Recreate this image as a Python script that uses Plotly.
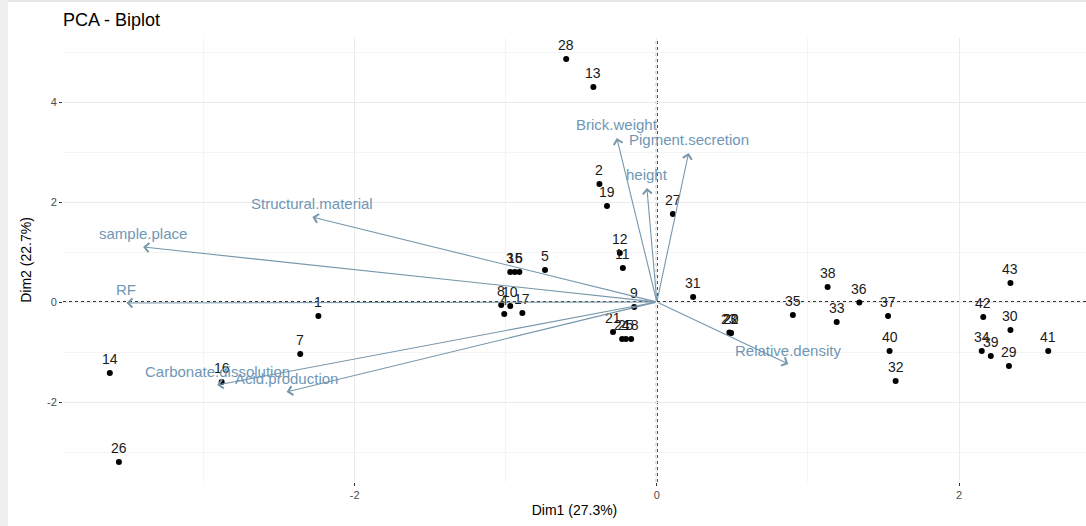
import plotly.graph_objects as go

# ---- data -------------------------------------------------------------
obs_labels = [str(i) for i in range(1, 44)]
obs_x = [-2.24, -0.38, -0.97, -1.01, -0.74, -0.91, -2.36, -1.03, -0.15, -0.97,
         -0.225, -0.245, -0.42, -3.62, -0.94, -2.88, -0.89, -0.17, -0.33, 0.49,
         -0.29, 0.49, 0.48, -0.23, -0.205, -3.56, 0.106, -0.60, 2.33, 2.34,
         0.24, 1.58, 1.19, 2.15, 0.90, 1.34, 1.53, 1.13, 2.21, 1.54,
         2.59, 2.16, 2.34]
obs_y = [-0.28, 2.36, 0.60, -0.24, 0.64, 0.60, -1.04, -0.06, -0.10, -0.08,
         0.68, 0.98, 4.30, -1.42, 0.60, -1.60, -0.22, -0.74, 1.92, -0.62,
         -0.60, -0.62, -0.61, -0.74, -0.74, -3.20, 1.76, 4.86, -1.28, -0.56,
         0.10, -1.58, -0.40, -0.98, -0.26, -0.01, -0.28, 0.30, -1.08, -0.98,
         -0.98, -0.30, 0.38]

var_names = ["Brick.weight", "Pigment.secretion", "height", "Structural.material",
             "sample.place", "RF", "Carbonate.dissolution", "Acid.production",
             "Relative.density"]
var_x = [-0.265, 0.21, -0.066, -2.28, -3.40, -3.51, -2.91, -2.45, 0.87]
var_y = [3.28, 2.98, 2.28, 1.70, 1.10, -0.02, -1.66, -1.80, -1.24]

x_ticks = [-2, 0, 2]
y_ticks = [-2, 0, 2, 4]
x_title = "Dim1 (27.3%)"
y_title = "Dim2 (22.7%)"
title = "PCA - Biplot"

# ---- styling ----------------------------------------------------------
FONT = "Liberation Sans, Arial, sans-serif"
VAR_COL = "#6F97B5"
ARROW_COL = "#7797AB"

fig = go.Figure()

fig.add_trace(go.Scatter(
    x=obs_x, y=obs_y, mode="markers",
    marker=dict(color="black", size=6),
    hoverinfo="text", text=obs_labels, showlegend=False,
))

annotations = []
for lab, x, y in zip(obs_labels, obs_x, obs_y):
    annotations.append(dict(
        x=x, y=y, xref="x", yref="y", text=lab, showarrow=False,
        yshift=14, xanchor="center", yanchor="middle",
        font=dict(family=FONT, size=14, color="#1a1a1a"),
    ))

for name, x, y in zip(var_names, var_x, var_y):
    annotations.append(dict(
        x=x, y=y, xref="x", yref="y", ax=0, ay=0, axref="x", ayref="y",
        text="", showarrow=True, arrowhead=4, arrowsize=1.6, arrowwidth=1.1,
        arrowcolor=ARROW_COL, standoff=0, startstandoff=0,
    ))
    annotations.append(dict(
        x=x, y=y, xref="x", yref="y", text=name, showarrow=False,
        yshift=14, xanchor="center", yanchor="middle",
        font=dict(family=FONT, size=15, color=VAR_COL),
    ))

shapes = [
    dict(type="line", xref="x domain", yref="y", x0=0, x1=1, y0=0, y1=0,
         line=dict(color="#333333", width=2, dash="3px,3px"), layer="below"),
    dict(type="line", xref="x", yref="y domain", x0=0, x1=0, y0=0, y1=1,
         line=dict(color="#333333", width=2, dash="3px,3px"), layer="below"),
    # screenshot frame
    dict(type="rect", xref="paper", yref="paper",
         x0=-63 / 1023, x1=-55 / 1023, y0=-44 / 444, y1=1 + 38 / 444,
         fillcolor="#EFEFEF", line=dict(width=0), layer="below"),
    dict(type="rect", xref="paper", yref="paper",
         x0=-55 / 1023, x1=1, y0=1 + 36 / 444, y1=1 + 38 / 444,
         fillcolor="#E6E6E6", line=dict(width=0), layer="below"),
]

axis_common = dict(
    automargin=False,
    showgrid=True, gridcolor="#EBEBEB", gridwidth=1,
    zeroline=False, showline=False,
    ticks="outside", ticklen=3, tickwidth=1, tickcolor="#333333",
    tickfont=dict(family=FONT, size=11, color="#4D4D4D"),
    minor=dict(dtick=1, showgrid=True, gridcolor="#F4F4F4", gridwidth=0.7),
)

fig.update_layout(
    width=1086, height=526,
    margin=dict(l=63, r=0, t=38, b=44, autoexpand=False),
    paper_bgcolor="white", plot_bgcolor="white",
    title=dict(text=title, x=0, xref="paper", xanchor="left",
               y=1 - 20 / 526, yref="container", yanchor="middle",
               font=dict(family=FONT, size=18, color="black")),
    xaxis=dict(range=[-3.93, 2.84], tickvals=x_ticks,
               ticktext=[str(v) for v in x_ticks],
               title=dict(text=x_title, standoff=4,
                          font=dict(family=FONT, size=14, color="black")),
               **axis_common),
    yaxis=dict(range=[-3.60, 5.28], tickvals=y_ticks,
               ticktext=[str(v) for v in y_ticks],
               title=dict(text=y_title, standoff=12,
                          font=dict(family=FONT, size=14, color="black")),
               **axis_common),
    annotations=annotations,
    shapes=shapes,
    showlegend=False,
)

fig.write_html(
    "out.html",
    config={"displayModeBar": False},
    post_script="document.body.style.margin='0';document.body.style.overflow='hidden';",
)
